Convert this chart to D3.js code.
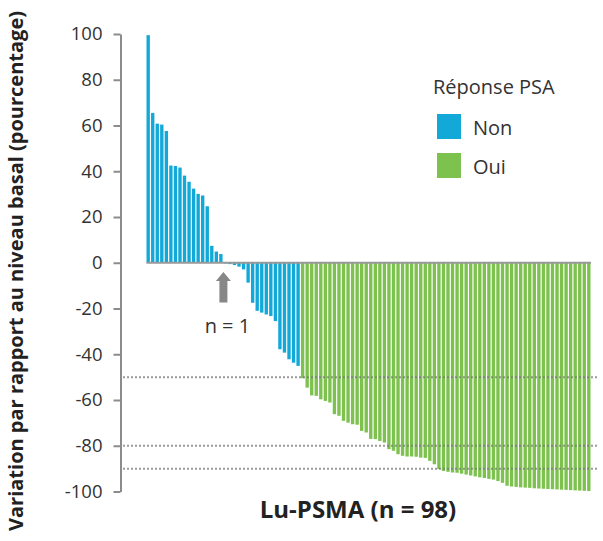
<!DOCTYPE html>
<html>
<head>
<meta charset="utf-8">
<script src="https://cdn.jsdelivr.net/npm/d3@7"></script>
<style>
  html, body { margin: 0; padding: 0; background: #fff; }
  svg { display: block; font-family: "Open Sans", sans-serif; }
</style>
</head>
<body>
<svg id="chart" width="603" height="541"></svg>
<script>
// PSA change from baseline per patient, sorted high to low
const nonResponders = [
  99.5, 65.5, 60.8, 60.4, 57.6, 42.5, 42.3, 41.6, 38.1, 35.4, 32.4, 30.1, 29.4, 24.7, 7.4, 4.9, 3.8,
  -0.3, -0.6, -1.0, -1.7, -2.9, -8.7, -17.5, -21.0, -21.8, -22.6, -23.3, -25.5, -37.8, -39.3, -42.2, -43.7, -45.1
];
const responders = [
  -50.5, -54.6, -58.0, -58.2, -59.7, -60.4, -61.1, -66.2, -66.9, -69.1, -69.9, -70.6, -70.8, -73.5, -74.2, -77.0,
  -77.1, -77.9, -78.6, -81.5, -82.2, -83.7, -84.4, -84.7, -84.7, -84.8, -85.2, -85.3, -86.6, -88.1, -90.2, -91.0,
  -91.4, -91.7, -91.8, -92.2, -92.6, -93.0, -93.4, -93.8, -94.1, -94.5, -94.8, -95.4, -96.2, -97.5, -97.8, -98.0,
  -98.2, -98.3, -98.4, -98.6, -98.7, -98.8, -98.9, -99.0, -99.1, -99.2, -99.3, -99.4, -99.5, -99.6, -99.7, -99.8
];
const yTicks = [100, 80, 60, 40, 20, 0, -20, -40, -60, -80, -100];
const thresholds = [-50, -80, -90];
const legendItems = [
  { key: "Non", label: "Non" },
  { key: "Oui", label: "Oui" }
];
const colors = { Non: "#12a9d8", Oui: "#7dc24f" };

const patients = nonResponders.map(v => ({ value: v, response: "Non" }))
  .concat(responders.map(v => ({ value: v, response: "Oui" })));
patients.forEach((d, i) => d.id = i);

const svg = d3.select("#chart");
const axisX = 120.5;

const x = d3.scaleBand()
  .domain(patients.map(d => d.id))
  .range([146.5, 590.5])
  .paddingInner(0.26)
  .paddingOuter(0);

const y = d3.scaleLinear().domain([-100, 100]).range([491.5, 34]);

// bars
svg.append("g")
  .selectAll("rect")
  .data(patients)
  .join("rect")
  .attr("x", d => x(d.id))
  .attr("width", x.bandwidth())
  .attr("y", d => y(Math.max(0, d.value)))
  .attr("height", d => Math.abs(y(d.value) - y(0)))
  .attr("fill", d => colors[d.response]);

// threshold reference lines
svg.append("g")
  .selectAll("line")
  .data(thresholds)
  .join("line")
  .attr("x1", 123).attr("x2", 599)
  .attr("y1", d => y(d)).attr("y2", d => y(d))
  .attr("stroke", "#7a7a7a")
  .attr("stroke-width", 2)
  .attr("stroke-dasharray", "2,2")
  .attr("opacity", 0.75);

// zero baseline
svg.append("line")
  .attr("x1", 146.5).attr("x2", 591)
  .attr("y1", y(0)).attr("y2", y(0))
  .attr("stroke", "#999")
  .attr("stroke-width", 2);

// y axis (hyphen-minus for negative labels)
const yAxis = svg.append("g")
  .attr("transform", `translate(${axisX},0)`)
  .call(d3.axisLeft(y).tickValues(yTicks).tickSize(7).tickSizeOuter(0).tickPadding(11)
    .tickFormat(d => String(d)));
yAxis.select(".domain").attr("stroke", "#8c8c8c").attr("stroke-width", 2);
yAxis.selectAll(".tick line").attr("stroke", "#8c8c8c").attr("stroke-width", 2);
yAxis.selectAll(".tick text")
  .attr("fill", "#333")
  .style("font-size", "18.5px")
  .style("font-family", "'Open Sans', sans-serif");

// y axis title
svg.append("text")
  .attr("transform", `translate(23,271) rotate(-90)`)
  .attr("text-anchor", "middle")
  .attr("fill", "#222")
  .style("font-size", "20px")
  .style("font-weight", "bold")
  .text("Variation par rapport au niveau basal (pourcentage)");

// x axis title
svg.append("text")
  .attr("x", 358).attr("y", 518)
  .attr("text-anchor", "middle")
  .attr("fill", "#222")
  .style("font-size", "24px")
  .style("font-weight", "bold")
  .text("Lu-PSMA (n = 98)");

// arrow marking the single unchanged patient
const ax = x(17) + x.bandwidth() / 2 - 2;
const arrow = d3.path();
arrow.moveTo(ax, 272);
arrow.lineTo(ax + 7.5, 281);
arrow.lineTo(ax + 4, 281);
arrow.lineTo(ax + 4, 302.5);
arrow.lineTo(ax - 4, 302.5);
arrow.lineTo(ax - 4, 281);
arrow.lineTo(ax - 7.5, 281);
arrow.closePath();
svg.append("path").attr("d", arrow.toString()).attr("fill", "#878787");

svg.append("text")
  .attr("x", ax + 4).attr("y", 333)
  .attr("text-anchor", "middle")
  .attr("fill", "#333")
  .style("font-size", "20px")
  .text("n = 1");

// legend
const legend = svg.append("g");
legend.append("text")
  .attr("x", 433).attr("y", 94)
  .attr("fill", "#333")
  .style("font-size", "20px")
  .text("Réponse PSA");
const li = legend.selectAll("g.item")
  .data(legendItems)
  .join("g")
  .attr("class", "item")
  .attr("transform", (d, i) => `translate(437,${114 + i * 39})`);
li.append("rect")
  .attr("width", 24).attr("height", 25)
  .attr("fill", d => colors[d.key]);
li.append("text")
  .attr("x", 36).attr("y", 21)
  .attr("fill", "#333")
  .style("font-size", "20px")
  .text(d => d.label);
</script>
</body>
</html>
